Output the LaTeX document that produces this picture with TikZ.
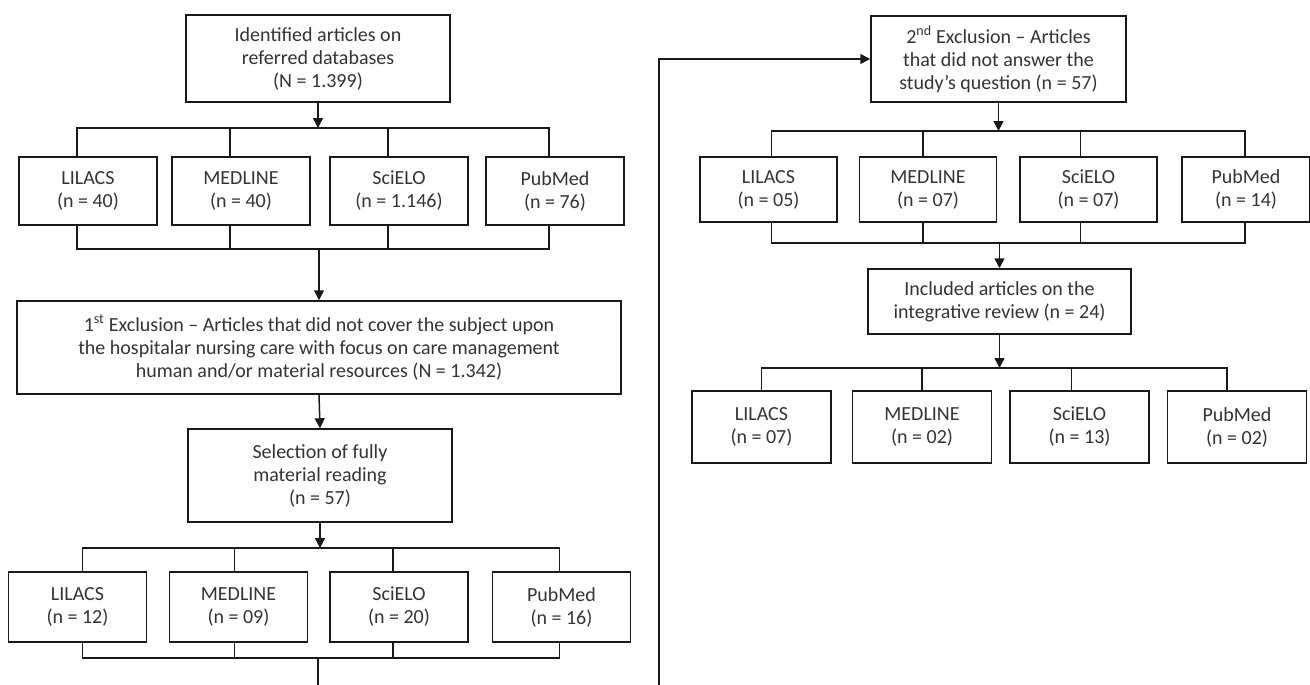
\documentclass[tikz,border=0pt]{standalone}
\usepackage{fontspec}
\setmainfont{Carlito}
\usepackage{tikz}
\usetikzlibrary{arrows.meta}
\newcommand{\linecolor}{black!90}
\newcommand{\labelcolor}{black!80}
\newcommand{\thickness}{1.5pt}

\begin{document}
\begin{tikzpicture}[x=1pt, y=-1pt,
  box/.style={draw=\linecolor, line width=\thickness, inner sep=0pt, align=center,
    text=\labelcolor, font=\fontsize{20}{23}\selectfont},
  db/.style={box, minimum width=138pt, minimum height=68pt},
  link/.style={draw=\linecolor, line width=\thickness},
  arrow/.style={link, -{Triangle[length=10pt, width=10pt]}}]
\useasboundingbox (0,0) rectangle (1310,685);
%left column
\node[box] (1) at (318, 58.5) [minimum width=264pt, minimum height=87pt] {Identified articles on\\referred databases\\(N = 1.399)};
\node[db] (2) at (88, 191) {LILACS\\(n = 40)};
\node[db] (3) at (241, 191) {MEDLINE\\(n = 40)};
\node[db] (4) at (399, 191) {SciELO\\(n = 1.146)};
\node[db] (5) at (555, 191) {PubMed\\(n = 76)};
\node[box] (6) at (319, 347.5) [minimum width=604pt, minimum height=93pt] {1\textsuperscript{st} Exclusion – Articles that did not cover the subject upon\\the hospitalar nursing care with focus on care management\\human and/or material resources (N = 1.342)};
\node[box] (7) at (320, 475.5) [minimum width=264pt, minimum height=93pt] {Selection of fully\\material reading\\(n = 57)};
\node[db] (8) at (77.5, 607) [minimum height=70pt] {LILACS\\(n = 12)};
\node[db] (9) at (238.5, 607) [minimum height=70pt] {MEDLINE\\(n = 09)};
\node[db] (10) at (399, 607) [minimum height=70pt] {SciELO\\(n = 20)};
\node[db] (11) at (561.5, 607) [minimum height=70pt] {PubMed\\(n = 16)};
%right column
\node[box] (12) at (998.5, 59) [minimum width=255pt, minimum height=86pt] {2\textsuperscript{nd} Exclusion – Articles\\that did not answer the\\study’s question (n = 57)};
\node[db] (13) at (768.5, 189.5) [minimum width=137pt, minimum height=65pt] {LILACS\\(n = 05)};
\node[db] (14) at (928, 189.5) [minimum width=137pt, minimum height=65pt] {MEDLINE\\(n = 07)};
\node[db] (15) at (1088.5, 189.5) [minimum width=137pt, minimum height=65pt] {SciELO\\(n = 07)};
\node[db] (16) at (1246, 189.5) [minimum width=128pt, minimum height=65pt] {PubMed\\(n = 14)};
\node[box] (17) at (999.5, 301.5) [minimum width=263pt, minimum height=65pt] {Included articles on the\\integrative review (n = 24)};
\node[db] (18) at (761.5, 427) [minimum width=139pt, minimum height=72pt] {LILACS\\(n = 07)};
\node[db] (19) at (922, 427) [minimum width=139pt, minimum height=72pt] {MEDLINE\\(n = 02)};
\node[db] (20) at (1079.5, 427) [minimum width=139pt, minimum height=72pt] {SciELO\\(n = 13)};
\node[db] (21) at (1237, 427) [minimum width=139pt, minimum height=72pt] {PubMed\\(n = 02)};
%bars
\coordinate (b1) at (318, 128);
\coordinate (b2) at (318, 249);
\coordinate (b3) at (318, 548);
\coordinate (b4) at (318, 658);
\coordinate (b5) at (998, 131);
\coordinate (b6) at (998, 243);
\coordinate (b7) at (998, 368);
\coordinate (e1) at (318, 685);
\coordinate (e2) at (659, 685);
%ticks, a little off the box centres
\coordinate (t2) at ([xshift=-11pt]2.north);
\coordinate (t3) at ([xshift=-11pt]3.north);
\coordinate (t4) at ([xshift=-11pt]4.north);
\coordinate (t5) at ([xshift=-6pt]5.north);
\coordinate (t8) at ([xshift=5pt]8.north);
\coordinate (t9) at ([xshift=-4pt]9.north);
\coordinate (t10) at ([xshift=-6pt]10.north);
\coordinate (t11) at ([xshift=-2pt]11.north);
\coordinate (t13) at ([xshift=3pt]13.north);
\coordinate (t14) at ([xshift=-5pt]14.north);
\coordinate (t15) at ([xshift=-8pt]15.north);
\coordinate (t16) at ([xshift=-1pt]16.north);
\coordinate (t18) at (18.north);
\coordinate (t19) at (19.north);
\coordinate (t20) at ([xshift=-8pt]20.north);
\coordinate (t21) at ([xshift=-10pt]21.north);
%1 -> 2345
\draw[arrow] (1.south) -- (1.south |- b1);
\draw[link] (t2) -- (t2 |- b1) -- (t5 |- b1) -- (t5);
\draw[link] (t3) -- (t3 |- b1);
\draw[link] (t4) -- (t4 |- b1);
%2345 -> 6
\draw[link] (t2 |- 2.south) -- (t2 |- b2) -- (t5 |- b2) -- (t5 |- 5.south);
\draw[link] (t3 |- 3.south) -- (t3 |- b2);
\draw[link] (t4 |- 4.south) -- (t4 |- b2);
\draw[arrow] (6.north |- b2) -- (6.north);
%6 -> 7
\draw[arrow] (6.south) -- (7.north);
%7 -> 891011
\draw[arrow] (7.south) -- (7.south |- b3);
\draw[link] (t8) -- (t8 |- b3) -- (t11 |- b3) -- (t11);
\draw[link] (t9) -- (t9 |- b3);
\draw[link] (t10) -- (t10 |- b3);
\draw[link] (t8 |- 8.south) -- (t8 |- b4) -- (t11 |- b4) -- (t11 |- 11.south);
\draw[link] (t9 |- 9.south) -- (t9 |- b4);
\draw[link] (t10 |- 10.south) -- (t10 |- b4);
\draw[link] (b4) -- (e1);
%long way round -> 12
\draw[arrow] (e2) |- (12.west);
%12 -> 13141516
\draw[arrow] (12.south) -- (12.south |- b5);
\draw[link] (t13) -- (t13 |- b5) -- (t16 |- b5) -- (t16);
\draw[link] (t14) -- (t14 |- b5);
\draw[link] (t15) -- (t15 |- b5);
\draw[link] (t13 |- 13.south) -- (t13 |- b6) -- (t16 |- b6) -- (t16 |- 16.south);
\draw[link] (t14 |- 14.south) -- (t14 |- b6);
\draw[link] (t15 |- 15.south) -- (t15 |- b6);
\draw[arrow] (17.north |- b6) -- (17.north);
%17 -> 18192021
\draw[arrow] (17.south) -- (17.south |- b7);
\draw[link] (t18) -- (t18 |- b7) -- (t21 |- b7) -- (t21);
\draw[link] (t19) -- (t19 |- b7);
\draw[link] (t20) -- (t20 |- b7);
\end{tikzpicture}
\end{document}
